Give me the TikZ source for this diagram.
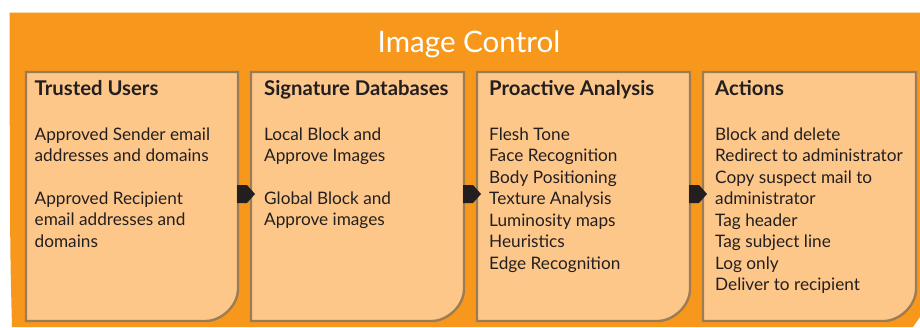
\documentclass[tikz,border=0pt]{standalone}
\usepackage{fontspec}
\setmainfont{Lato}
\definecolor{imgorange}{HTML}{F7981D}
\definecolor{panelfill}{HTML}{FDC78A}
\definecolor{panelborder}{HTML}{9C7C54}
\definecolor{textdark}{HTML}{231F20}
\begin{document}
\begin{tikzpicture}[x=1pt,y=-1pt,
  panel/.style={fill=panelfill,draw=panelborder,line width=2.4pt},
  marker/.style={fill=textdark},
  head/.style={anchor=base west,inner sep=0pt,font=\fontsize{20.3}{24}\selectfont\bfseries,text=textdark},
  body/.style={anchor=base west,inner sep=0pt,font=\fontsize{17.2}{21}\selectfont,text=textdark},
  maintitle/.style={anchor=base,inner sep=0pt,font=\fontsize{29.6}{34}\selectfont,text=white}]
\useasboundingbox (0,0) rectangle (920,327);
% orange background
\fill[imgorange] (9.5,12.5) -- (920,12.5) -- (920,317) -- (913,327) -- (12,327) .. controls (10,250) .. (9.5,12.5) -- cycle;
\node[maintitle] (title) at (469,52) {Image Control};
% panels
\foreach \xa/\xb/\nm in {26/238/p1, 251/464/p2, 477/690/p3, 703/916/p4}{
  \draw[panel] (\xa,72) -- (\xb,72) -- (\xb,289) .. controls (\xb,306.7) and (\xb-17.7,321) .. (\xb-32,321) -- (\xa,321) -- cycle;
  \coordinate (\nm) at (\xa,72);
}
% arrow markers
\foreach \xa in {237,463,689}{
  \fill[marker] (\xa,185) -- (\xa+10,185) -- (\xa+18,194) -- (\xa+10,203) -- (\xa,203) -- cycle;
}
% headings
\node[head] (h1) at (34.5,95) {Trusted Users};
\node[head] (h2) at (264,95) {Signature Databases};
\node[head] (h3) at (489,95) {Proactive Analysis};
\node[head] (h4) at (715,95) {Actions};
% body text
\foreach \t/\yy [count=\i] in {Approved Sender email/140, addresses and domains/161.5, Approved Recipient/204, email addresses and/225.5, domains/247}
  \node[body] (a\i) at (34.5,\yy) {\t};
\foreach \t/\yy [count=\i] in {Local Block and/140, Approve Images/161.5, Global Block and/204, Approve images/225.5}
  \node[body] (b\i) at (264,\yy) {\t};
\foreach \t [count=\i] in {Flesh Tone, Face Recognition, Body Positioning, Texture Analysis, Luminosity maps, Heuristics, Edge Recognition}
  \node[body] (c\i) at (489,{140+(\i-1)*21.5}) {\t};
\foreach \t [count=\i] in {Block and delete, Redirect to administrator, Copy suspect mail to, administrator, Tag header, Tag subject line, Log only, Deliver to recipient}
  \node[body] (d\i) at (715,{140+(\i-1)*21.5}) {\t};
\end{tikzpicture}
\end{document}
